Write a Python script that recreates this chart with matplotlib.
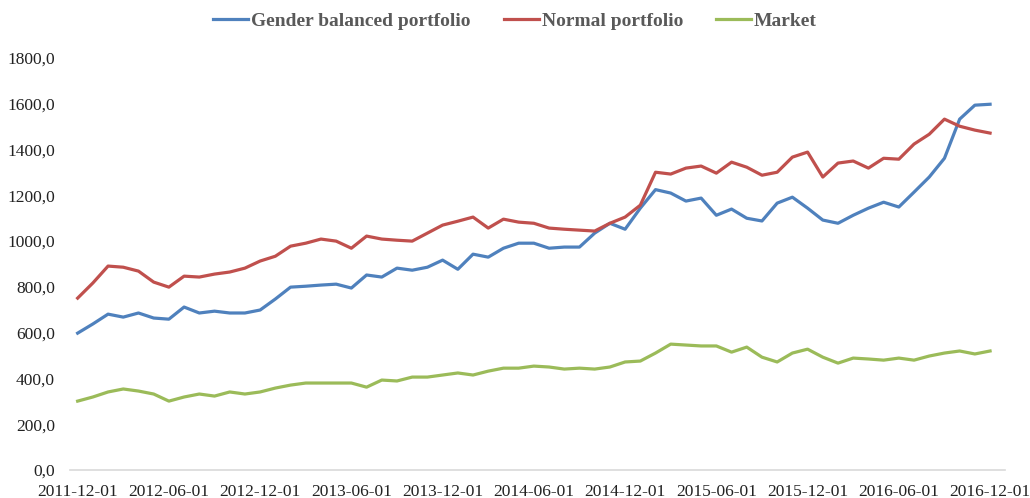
import numpy as np
import pandas as pd
import matplotlib
matplotlib.use('Agg')
import matplotlib.pyplot as plt

# monthly observations, 2011-12-01 .. 2016-12-01
dates = pd.date_range('2011-12-01', periods=61, freq='MS')

gender_balanced = [598, 638, 681, 668, 686, 664, 659, 712, 686, 694,
                   686, 686, 699, 747, 799, 803, 808, 812, 795, 852,
                   843, 882, 873, 886, 917, 877, 943, 930, 969, 991,
                   991, 969, 974, 974, 1035, 1078, 1052, 1144, 1225, 1210,
                   1175, 1188, 1113, 1140, 1100, 1088, 1166, 1192, 1144, 1092,
                   1078, 1113, 1144, 1170, 1149, 1214, 1280, 1362, 1533, 1594,
                   1598]
normal = [751, 817, 891, 886, 869, 821, 799, 847, 843, 856,
          865, 882, 913, 934, 978, 991, 1009, 1000, 969, 1022,
          1009, 1004, 1000, 1035, 1070, 1087, 1105, 1057, 1096, 1083,
          1078, 1057, 1052, 1048, 1044, 1078, 1105, 1157, 1301, 1293,
          1319, 1328, 1297, 1345, 1323, 1288, 1301, 1367, 1389, 1280,
          1341, 1350, 1319, 1362, 1358, 1424, 1467, 1533, 1502, 1485,
          1472]
market = [301, 319, 341, 354, 345, 332, 301, 319, 332, 323,
          341, 332, 341, 358, 371, 380, 380, 380, 380, 362,
          393, 389, 406, 406, 415, 424, 415, 432, 445, 445,
          454, 450, 441, 445, 441, 450, 472, 476, 511, 550,
          546, 542, 542, 515, 537, 493, 472, 511, 528, 493,
          467, 489, 485, 480, 489, 480, 498, 511, 520, 507,
          520]

yticks = np.arange(0, 1801, 200)

plt.rcParams['font.family'] = ['Liberation Serif', 'DejaVu Serif']

fig = plt.figure(figsize=(10.3, 4.98), dpi=100)
ax = fig.add_axes([0.068, 0.0562, 0.908, 0.8273])

x = np.arange(len(dates))
ax.plot(x, gender_balanced, color='#4F81BD', lw=2.3, label='Gender balanced portfolio')
ax.plot(x, normal, color='#C0504D', lw=2.3, label='Normal portfolio')
ax.plot(x, market, color='#9BBB59', lw=2.3, label='Market')

ax.set_xlim(-0.5, 61)
ax.set_ylim(0, 1800)
ax.set_yticks(yticks)
ax.set_yticklabels(['%d,0' % v for v in yticks], fontsize=12.5, color='#222222')
ax.set_xticks(x[::6])
ax.set_xticklabels([d.strftime('%Y-%m-%d') for d in dates[::6]], fontsize=12.5, color='#222222')
ax.tick_params(length=0)
ax.tick_params(axis='x', pad=10)
ax.tick_params(axis='y', pad=11)

for s in ['top', 'right', 'left']:
    ax.spines[s].set_visible(False)
ax.spines['bottom'].set_color('#D9D9D9')
ax.spines['bottom'].set_linewidth(1.2)

leg = fig.legend(loc='upper center', bbox_to_anchor=(0.5, 1.01), ncol=3, frameon=False,
                 prop={'weight': 'bold', 'size': 14}, handlelength=1.8,
                 handletextpad=0.15, columnspacing=1.7)
for t in leg.get_texts():
    t.set_color('#595959')

fig.savefig('out.png', dpi=100)
